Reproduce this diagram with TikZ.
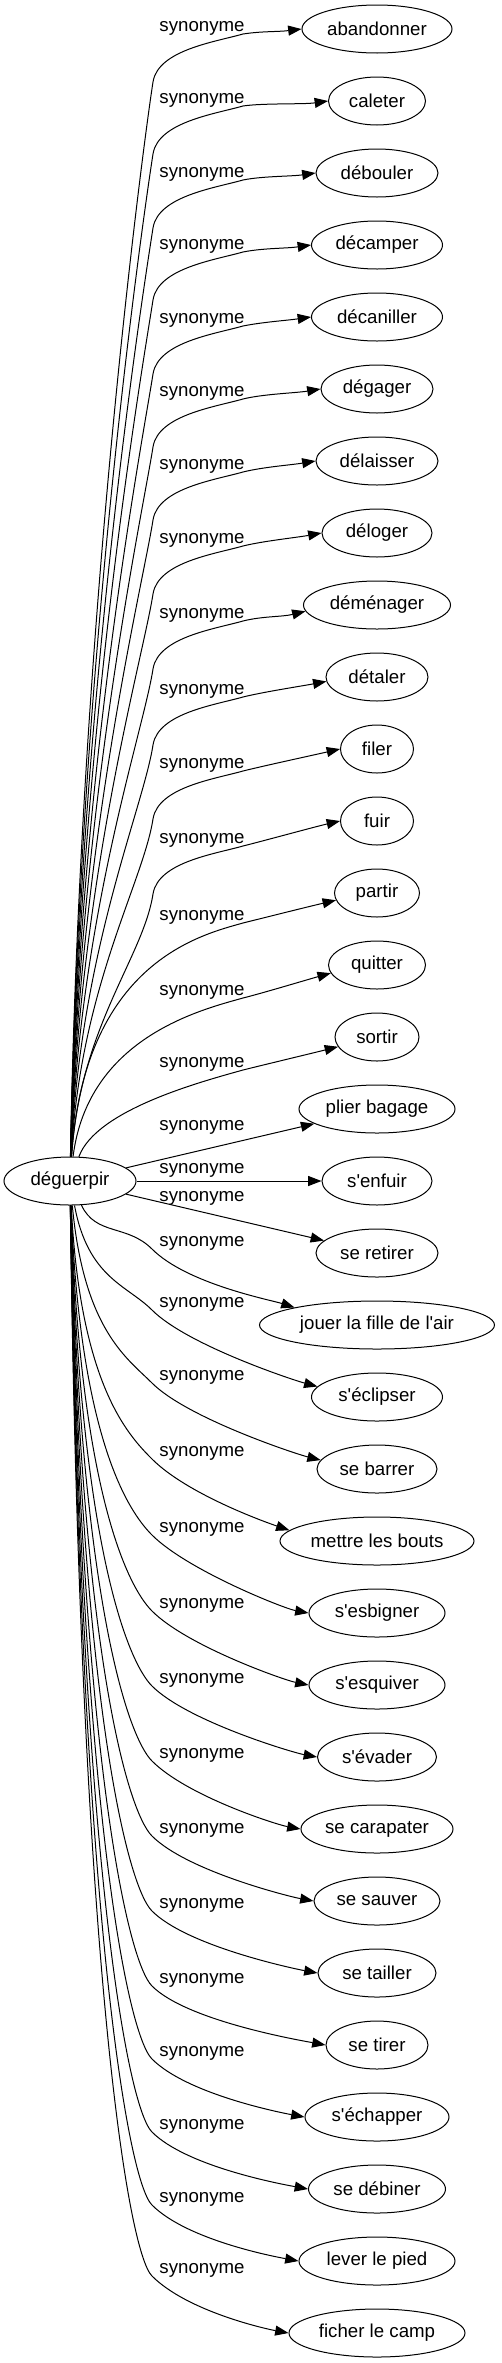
\documentclass[tikz,border=0pt]{standalone}
\usepackage{fontspec}
\setmainfont{Liberation Sans}
\usetikzlibrary{arrows.meta, shapes.geometric}

\begin{document}
\begin{tikzpicture}[x=0.75pt, y=-0.75pt,
    word/.style={draw, ellipse, line width=0.75pt, inner sep=0pt,
                 minimum height=36pt, font=\fontsize{14}{16}\selectfont},
    syn/.style={inner sep=0pt, font=\fontsize{14}{16}\selectfont},
    flow/.style={-{Triangle[length=10pt,width=7.5pt]}, line width=0.75pt},
]
\useasboundingbox (0,0) rectangle (501,2363);
\node[word, minimum width=99pt] (deguerpir) at (70,1181) {déguerpir};
\node[word, minimum width=112.5pt] (abandonner) at (377,29) {abandonner};
\node[word, minimum width=72.75pt] (caleter) at (377,101) {caleter};
\node[word, minimum width=91.5pt] (debouler) at (377,173) {débouler};
\node[word, minimum width=98.25pt] (decamper) at (377,245) {décamper};
\node[word, minimum width=98.25pt] (decaniller) at (377,317) {décaniller};
\node[word, minimum width=84pt] (degager) at (377,389) {dégager};
\node[word, minimum width=91.5pt] (delaisser) at (377,461) {délaisser};
\node[word, minimum width=82.5pt] (deloger) at (377,533) {déloger};
\node[word, minimum width=110.25pt] (demenager) at (377,605) {déménager};
\node[word, minimum width=76.5pt] (detaler) at (377,677) {détaler};
\node[word, minimum width=54.75pt] (filer) at (377,749) {filer};
\node[word, minimum width=54.75pt] (fuir) at (377,821) {fuir};
\node[word, minimum width=63.75pt] (partir) at (377,893) {partir};
\node[word, minimum width=72.75pt] (quitter) at (377,965) {quitter};
\node[word, minimum width=63pt] (sortir) at (377,1037) {sortir};
\node[word, minimum width=117pt] (plier) at (377,1109) {plier bagage};
\node[word, minimum width=82.5pt] (senfuir) at (377,1181) {s\textquotesingle enfuir};
\node[word, minimum width=91.5pt] (seretirer) at (377,1253) {se retirer};
\node[word, minimum width=176.25pt] (jouer) at (377,1325) {jouer la fille de l\textquotesingle air};
\node[word, minimum width=98.25pt] (seclipser) at (377,1397) {s\textquotesingle éclipser};
\node[word, minimum width=90pt] (sebarrer) at (377,1469) {se barrer};
\node[word, minimum width=145.5pt] (mettre) at (377,1541) {mettre les bouts};
\node[word, minimum width=102pt] (sesbigner) at (377,1613) {s\textquotesingle esbigner};
\node[word, minimum width=102pt] (sesquiver) at (377,1685) {s\textquotesingle esquiver};
\node[word, minimum width=89.25pt] (sevader) at (377,1757) {s\textquotesingle évader};
\node[word, minimum width=114pt] (secarapater) at (377,1829) {se carapater};
\node[word, minimum width=94.5pt] (sesauver) at (377,1901) {se sauver};
\node[word, minimum width=88.5pt] (setailler) at (377,1973) {se tailler};
\node[word, minimum width=76.5pt] (setirer) at (377,2045) {se tirer};
\node[word, minimum width=108pt] (sechapper) at (377,2117) {s\textquotesingle échapper};
\node[word, minimum width=102.75pt] (sedebiner) at (377,2189) {se débiner};
\node[word, minimum width=117pt] (lever) at (377,2261) {lever le pied};
\node[word, minimum width=132pt] (ficher) at (377,2333) {ficher le camp};
% upper fan
\draw[flow] (deguerpir) .. controls (80,620) and (143,146) .. (153,82) .. controls (158,50) and (215,42) .. (243,34) .. controls (263,31) and (277,32) .. (abandonner.west) node[syn] (s1) at (202,28) {synonyme};
\draw[flow] (deguerpir) .. controls (80,656) and (143,218) .. (153,154) .. controls (158,122) and (215,114) .. (243,106) .. controls (263,103) and (303.5,104.5) .. (caleter.west) node[syn] (s2) at (202,100) {synonyme};
\draw[flow] (deguerpir) .. controls (80,693) and (143,292) .. (153,228) .. controls (158,196) and (215,188) .. (243,180) .. controls (263,176) and (291,176.5) .. (debouler.west) node[syn] (s3) at (202,174) {synonyme};
\draw[flow] (deguerpir) .. controls (80,729) and (143,364) .. (153,300) .. controls (158,268) and (215,260) .. (243,252) .. controls (263,248) and (286.5,248.5) .. (decamper.west) node[syn] (s4) at (202,246) {synonyme};
\draw[flow] (deguerpir) .. controls (80,766) and (143,438) .. (153,374) .. controls (158,342) and (215,334) .. (243,326) .. controls (263,322) and (286.5,320.5) .. (decaniller.west) node[syn] (s5) at (202,320) {synonyme};
\draw[flow] (deguerpir) .. controls (80,802) and (143,511) .. (153,447) .. controls (158,415) and (215,407) .. (243,399) .. controls (263,394) and (296,393) .. (degager.west) node[syn] (s6) at (202,393) {synonyme};
\draw[flow] (deguerpir) .. controls (80,839) and (143,584) .. (153,520) .. controls (158,488) and (215,480) .. (243,472) .. controls (263,467) and (291,465) .. (delaisser.west) node[syn] (s7) at (202,466) {synonyme};
\draw[flow] (deguerpir) .. controls (80,876) and (143,658) .. (153,594) .. controls (158,562) and (215,554) .. (243,546) .. controls (263,541) and (297,537.5) .. (deloger.west) node[syn] (s8) at (202,540) {synonyme};
\draw[flow] (deguerpir) .. controls (80,913) and (143,733) .. (153,669) .. controls (158,637) and (215,629) .. (243,621) .. controls (263,616) and (282,617) .. (demenager.185) node[syn] (s9) at (202,615) {synonyme};
\draw[flow] (deguerpir) .. controls (80,951) and (143,809) .. (153,745) .. controls (158,713) and (215,705) .. (243,697) .. controls (263,692) and (302,686) .. (detaler.185) node[syn] (s10) at (202,691) {synonyme};
\draw[flow] (deguerpir) .. controls (80,988) and (143,883) .. (153,819) .. controls (158,787) and (215,779) .. (243,771) .. controls (263,766) and (316,754.5) .. (filer.west) node[syn] (s11) at (202,765) {synonyme};
\draw[flow] (deguerpir) .. controls (80,1026) and (143,958) .. (153,894) .. controls (158,862) and (215,854) .. (243,846) .. controls (263,841) and (316,826.5) .. (fuir.west) node[syn] (s12) at (202,840) {synonyme};
\draw[flow] (deguerpir) .. controls (84,963) and (200,935) .. (243,923) .. controls (263,918) and (311,906) .. (partir.190) node[syn] (s13) at (202,917) {synonyme};
\draw[flow] (deguerpir) .. controls (88,1038) and (200,1010) .. (243,998) .. controls (263,993) and (306,980) .. (quitter.190) node[syn] (s14) at (202,992) {synonyme};
\draw[flow] (deguerpir) .. controls (96,1110) and (200,1082) .. (243,1070) .. controls (263,1065) and (313,1053) .. (sortir.194) node[syn] (s15) at (202,1064) {synonyme};
% middle
\draw[flow] (deguerpir) -- (plier) node[syn] (s16) at (202,1127) {synonyme};
\draw[flow] (deguerpir) -- (senfuir) node[syn] (s17) at (202,1170) {synonyme};
\draw[flow] (deguerpir) -- (seretirer) node[syn] (s18) at (202,1198) {synonyme};
% lower fan
\draw[flow] (deguerpir) .. controls (96,1236) and (127,1224) .. (152,1249) .. controls (187,1284) and (271,1300) .. (jouer.168) node[syn] (s19) at (202,1243) {synonyme};
\draw[flow] (deguerpir) .. controls (88,1278) and (127,1285) .. (152,1310) .. controls (187,1345) and (293,1380) .. (seclipser.170) node[syn] (s20) at (202,1304) {synonyme};
\draw[flow] (deguerpir) .. controls (84,1330) and (127,1358) .. (152,1383) .. controls (187,1418) and (296,1454) .. (sebarrer.171) node[syn] (s21) at (202,1377) {synonyme};
\draw[flow] (deguerpir) .. controls (80,1383) and (127,1434) .. (152,1459) .. controls (187,1494) and (265,1522) .. (mettre.173) node[syn] (s22) at (202,1453) {synonyme};
\draw[flow] (deguerpir) .. controls (80,1436) and (127,1510) .. (152,1535) .. controls (187,1570) and (284,1608.5) .. (sesbigner.west) node[syn] (s23) at (202,1529) {synonyme};
\draw[flow] (deguerpir) .. controls (80,1489) and (127,1586) .. (152,1611) .. controls (187,1646) and (284,1680) .. (sesquiver.west) node[syn] (s24) at (202,1605) {synonyme};
\draw[flow] (deguerpir) .. controls (80,1542) and (127,1661) .. (152,1686) .. controls (187,1721) and (292.5,1752.5) .. (sevader.west) node[syn] (s25) at (202,1680) {synonyme};
\draw[flow] (deguerpir) .. controls (80,1594) and (127,1736) .. (152,1761) .. controls (187,1796) and (276,1824.5) .. (secarapater.west) node[syn] (s26) at (202,1755) {synonyme};
\draw[flow] (deguerpir) .. controls (80,1647) and (127,1811) .. (152,1836) .. controls (187,1871) and (289,1896.5) .. (sesauver.west) node[syn] (s27) at (202,1830) {synonyme};
\draw[flow] (deguerpir) .. controls (80,1699) and (127,1886) .. (152,1911) .. controls (187,1946) and (293,1968.5) .. (setailler.west) node[syn] (s28) at (202,1905) {synonyme};
\draw[flow] (deguerpir) .. controls (80,1752) and (127,1961) .. (152,1986) .. controls (187,2021) and (301,2040.5) .. (setirer.west) node[syn] (s29) at (202,1980) {synonyme};
\draw[flow] (deguerpir) .. controls (80,1803) and (127,2034) .. (152,2059) .. controls (187,2094) and (280,2112.5) .. (sechapper.west) node[syn] (s30) at (202,2053) {synonyme};
\draw[flow] (deguerpir) .. controls (80,1854) and (127,2107) .. (152,2132) .. controls (187,2167) and (283.5,2184.5) .. (sedebiner.west) node[syn] (s31) at (202,2126) {synonyme};
\draw[flow] (deguerpir) .. controls (80,1905) and (127,2180) .. (152,2205) .. controls (187,2240) and (274,2256.5) .. (lever.west) node[syn] (s32) at (202,2199) {synonyme};
\draw[flow] (deguerpir) .. controls (80,1955) and (127,2251) .. (152,2276) .. controls (187,2311) and (264,2328.5) .. (ficher.west) node[syn] (s33) at (202,2270) {synonyme};
\end{tikzpicture}
\end{document}
